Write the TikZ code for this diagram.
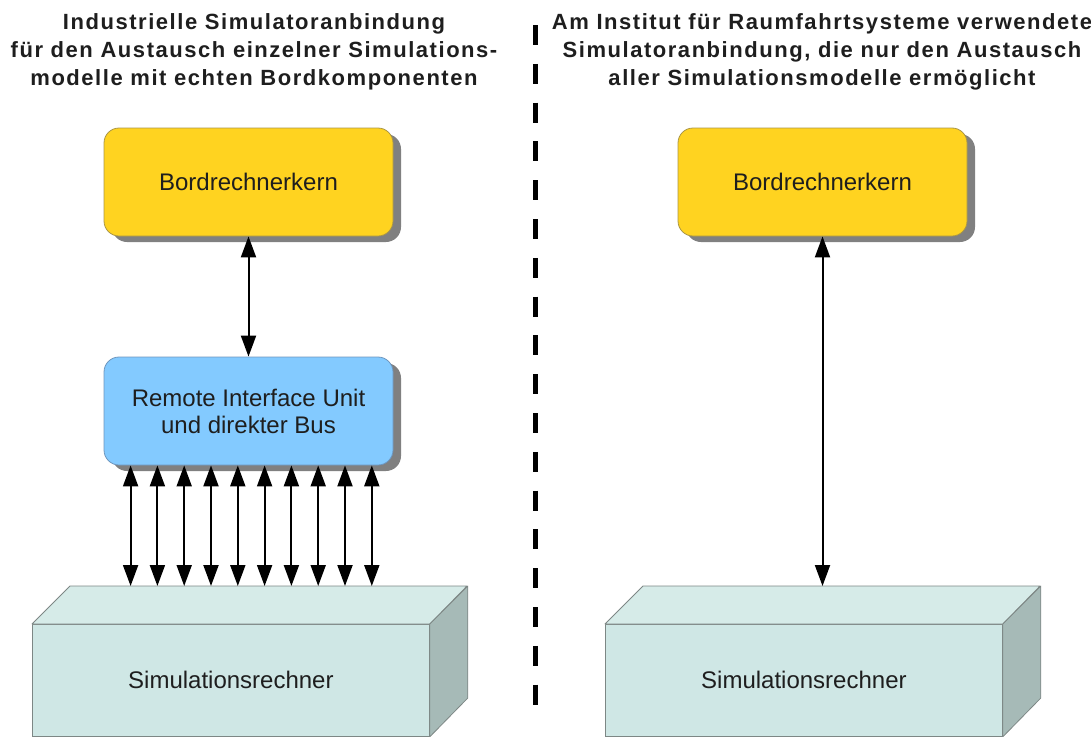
\documentclass[tikz,border=0pt]{standalone}
\usepackage{fontspec}
\setmainfont{Liberation Sans}
\newfontfamily\headfont[LetterSpace=7]{Liberation Sans}
\usetikzlibrary{arrows.meta,shadows}

\definecolor{coreyellow}{RGB}{255,211,32}
\definecolor{coreedge}{RGB}{170,150,70}
\definecolor{riublue}{RGB}{131,202,255}
\definecolor{riuedge}{RGB}{110,150,190}
\definecolor{shadowgray}{RGB}{128,128,128}
\definecolor{simfront}{RGB}{207,231,229}
\definecolor{simtop}{RGB}{214,235,232}
\definecolor{simside}{RGB}{166,186,183}
\definecolor{simedge}{RGB}{125,135,133}
\definecolor{textdark}{RGB}{30,30,30}

\tikzset{
  heading/.style={font=\headfont\bfseries\fontsize{22}{28}\selectfont, align=center,
    inner sep=0pt, anchor=north, text=textdark},
  boxbase/.style={rounded corners=15pt, minimum width=289pt, minimum height=108pt,
    line width=0.8pt, align=center, text=textdark,
    font=\fontsize{24}{27}\selectfont,
    drop shadow={shadow xshift=8pt, shadow yshift=-6pt, fill=shadowgray, opacity=1}},
  corebox/.style={boxbase, draw=coreedge, fill=coreyellow},
  riubox/.style={boxbase, draw=riuedge, fill=riublue},
  simfrontface/.style={draw=simedge, fill=simfront, line width=0.8pt,
    minimum width=397pt, minimum height=112pt, anchor=north west, inner sep=0pt,
    text=textdark, font=\fontsize{24}{27}\selectfont},
  simtopface/.style={draw=simedge, fill=simtop, line width=0.8pt, line join=round},
  simsideface/.style={draw=simedge, fill=simside, line width=0.8pt, line join=round},
  link/.style={line width=2pt, draw=black,
    {Triangle[length=21pt,width=15pt]}-{Triangle[length=21pt,width=15pt]}},
  divider/.style={line width=5pt, draw=black, dash pattern=on 20pt off 18.8pt}
}

\begin{document}
\begin{tikzpicture}[x=1pt, y=-1pt]
  \useasboundingbox (0,0) rectangle (1091,736);

  % column headings
  \node[heading] (headL) at (254,13)
    {Industrielle Simulatoranbindung\\
     für den Austausch einzelner Simulations-\\
     modelle mit echten Bordkomponenten};
  \node[heading] (headR) at (822,13)
    {Am Institut für Raumfahrtsysteme verwendete\\
     Simulatoranbindung, die nur den Austausch\\
     aller Simulationsmodelle ermöglicht};

  % separating dashed line
  \coordinate (divTop) at (535.5,25);
  \coordinate (divBot) at (535.5,706);
  \draw[divider] (divTop) -- (divBot);

  % left column: on-board core, remote interface unit, simulation computer
  \node[corebox] (coreL) at (248.5,182) {Bordrechnerkern};
  \node[riubox]  (riu)   at (248.5,411) {Remote Interface Unit\\und direkter Bus};

  \node[simfrontface] (simL) at (32,624) {Simulationsrechner};
  \draw[simtopface] (simL.north west) -- ++(38,-38) -- ++(397,0)
    -- (simL.north east) -- cycle;
  \draw[simsideface] (simL.north east) -- ++(38,-38) -- ++(0,112)
    -- (simL.south east) -- cycle;
  \coordinate (simLback) at ([shift={(38,-38)}]simL.north west);

  % right column: on-board core and simulation computer
  \node[corebox] (coreR) at (822.5,182) {Bordrechnerkern};

  \node[simfrontface] (simR) at (605,624) {Simulationsrechner};
  \draw[simtopface] (simR.north west) -- ++(38,-38) -- ++(397,0)
    -- (simR.north east) -- cycle;
  \draw[simsideface] (simR.north east) -- ++(38,-38) -- ++(0,112)
    -- (simR.south east) -- cycle;
  \coordinate (simRback) at ([shift={(38,-38)}]simR.north west);

  % connections
  \draw[link] (coreL.south) -- (riu.north);
  \foreach \i in {0,...,9} {
    \coordinate (bus\i) at ([xshift={27+26.8*\i}]riu.south west);
    \draw[link] (bus\i) -- (bus\i |- simLback);
  }
  \draw[link] (coreR.south) -- (coreR.south |- simRback);
\end{tikzpicture}
\end{document}
